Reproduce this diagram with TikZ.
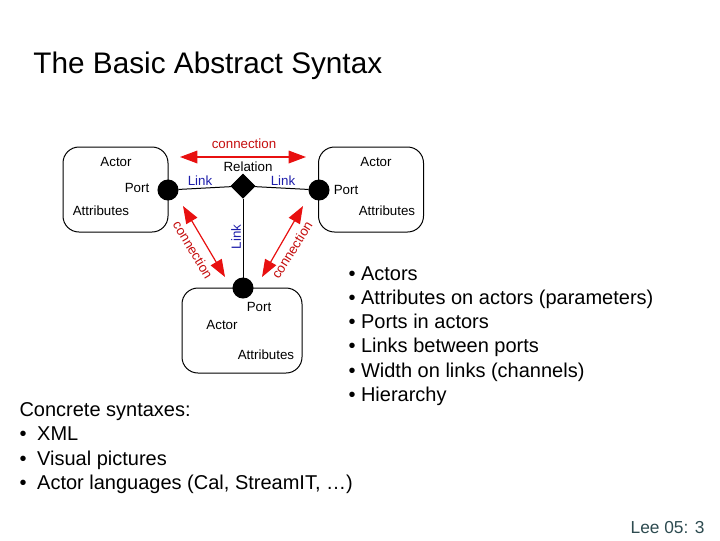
\documentclass[tikz,border=0pt]{standalone}
\usepackage{fontspec}
\setmainfont{Liberation Sans}
\usetikzlibrary{arrows.meta,shapes.geometric}

\definecolor{linkblue}{RGB}{30,30,170}
\definecolor{connred}{RGB}{232,16,16}
\definecolor{footgray}{RGB}{45,75,80}

\tikzset{every picture/.style={line width=0.75pt}}
\tikzset{
	actorbox/.style={draw,rounded corners=12pt,minimum width=78.75pt,minimum height=63.75pt,inner sep=0pt},
	portdot/.style={circle,fill=black,draw,minimum size=15pt,inner sep=0pt},
	relation/.style={diamond,fill=black,draw,minimum width=18pt,minimum height=18pt,inner sep=0pt},
	conn/.style={connred,line width=0.9pt,{Triangle[length=13pt,width=9.5pt]}-{Triangle[length=13pt,width=9.5pt]}},
	boxlabel/.style={inner sep=0.75pt,font=\fontsize{10}{12}\selectfont},
	linklabel/.style={boxlabel,text=linkblue},
	connlabel/.style={boxlabel,text=connred!85!black},
}

\begin{document}
\begin{tikzpicture}[x=0.75pt,y=0.75pt,yscale=-1,xscale=1]
				\useasboundingbox (0,0) rectangle (720,540);
				% Title
				\draw (32,66) node [anchor=west][inner sep=0.75pt] (title) {\fontsize{22.3}{26}\selectfont The Basic Abstract Syntax};
				%Shape: Actor boxes
				\node [actorbox] (actL) at (115.5,189.5) {};
				\node [actorbox] (actR) at (371,189.5) {};
				\node [actorbox,minimum width=90pt] (actB) at (242,330.5) {};
				%Shape: Ports and relation
				\node [portdot] (portL) at (168,190) {};
				\node [portdot] (portR) at (319,190) {};
				\node [portdot] (portB) at (243,288) {};
				\node [relation] (rel) at (243,186) {};
				%Straight Lines: links
				\draw (portL) -- (rel);
				\draw (rel) -- (portR);
				\draw (rel) -- (portB);
				%Arrows: connections
				\coordinate (cTopL) at (180,157);
				\coordinate (cTopR) at (306,157);
				\coordinate (cLeftA) at (183,206);
				\coordinate (cLeftB) at (225,277);
				\coordinate (cRightA) at (303,206);
				\coordinate (cRightB) at (262,277);
				\draw [conn] (cTopL) -- (cTopR);
				\draw [conn] (cLeftA) -- (cLeftB);
				\draw [conn] (cRightA) -- (cRightB);
				
				% Text Node
				\draw (116,162) node [boxlabel] (actLtxt) {Actor};
				% Text Node
				\draw (137,188) node [boxlabel] (portLtxt) {Port};
				% Text Node
				\draw (101,211) node [boxlabel] (attLtxt) {Attributes};
				% Text Node
				\draw (376,162) node [boxlabel] (actRtxt) {Actor};
				% Text Node
				\draw (346,190) node [boxlabel] (portRtxt) {Port};
				% Text Node
				\draw (387,211) node [boxlabel] (attRtxt) {Attributes};
				% Text Node
				\draw (259,307) node [boxlabel] (portBtxt) {Port};
				% Text Node
				\draw (222,325) node [boxlabel] (actBtxt) {Actor};
				% Text Node
				\draw (266,355) node [boxlabel] (attBtxt) {Attributes};
				% Text Node
				\draw (248,167) node [boxlabel] (reltxt) {Relation};
				% Text Node
				\draw (200,181) node [linklabel] (linkL) {Link};
				% Text Node
				\draw (283,181) node [linklabel] (linkR) {Link};
				% Text Node
				\draw (236,237) node [linklabel,rotate=90] (linkB) {Link};
				% Text Node
				\draw (244,144) node [connlabel] (connTop) {connection};
				% Text Node
				\draw (193,250) node [connlabel,rotate=-59] (connLeft) {connection};
				% Text Node
				\draw (292,250) node [connlabel,rotate=58] (connRight) {connection};
				% Text Node
				\draw (348,266) node [anchor=north west][inner sep=0pt,align=left,font=\fontsize{15}{18.15}\selectfont] (features) {• Actors\\• Attributes on actors (parameters)\\• Ports in actors\\• Links between ports\\• Width on links (channels)\\• Hierarchy};
				% Text Node
				\draw (19,402) node [anchor=north west][inner sep=0pt,align=left,font=\fontsize{15}{18.2}\selectfont] (concrete) {Concrete syntaxes:\\•\hspace{8pt}XML\\•\hspace{8pt}Visual pictures\\•\hspace{8pt}Actor languages (Cal, StreamIT, …)};
				% Text Node
				\draw (706,528) node [anchor=east][inner sep=0.75pt,text=footgray,font=\fontsize{13}{15}\selectfont] (footer) {Lee 05: 3};
			\end{tikzpicture}
\end{document}
